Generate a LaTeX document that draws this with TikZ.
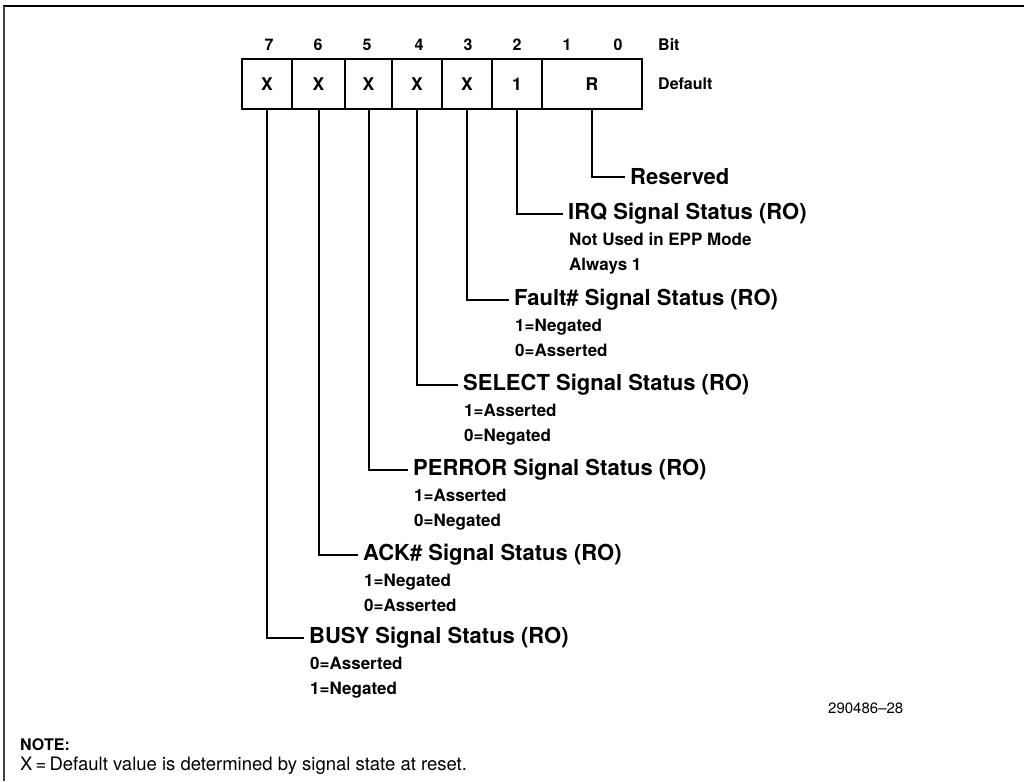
\documentclass[tikz,border=0pt]{standalone}
\usepackage{fontspec}
\setmainfont{TeX Gyre Heros}
\begin{document}
\begin{tikzpicture}[x=1pt,y=-1pt,
  cell/.style={draw,line width=2pt,minimum height=50pt,inner sep=0pt,font=\fontsize{17.5}{18}\selectfont\bfseries},
  bitnum/.style={inner sep=0pt,font=\fontsize{16}{18}\selectfont\bfseries},
  hdr/.style={anchor=west,inner sep=0pt,font=\fontsize{16}{18}\selectfont\bfseries},
  title/.style={anchor=west,inner xsep=5pt,inner ysep=0pt,font=\fontsize{22}{24}\selectfont\bfseries},
  sub/.style={anchor=base west,inner sep=0pt,align=left,font=\fontsize{17}{24.5}\selectfont\bfseries},
  leader/.style={line width=2pt}]
\useasboundingbox (0,0) rectangle (1024,781);
% frame
\draw[line width=2.2pt] (3,6) -- (1024,6);
\draw[line width=2pt, black!75] (4,6) -- (4,781);
% register cells
\node[cell,minimum width=50pt] (c7) at (267,84) {X};
\node[cell,minimum width=53pt] (c6) at (318.5,84) {X};
\node[cell,minimum width=47pt] (c5) at (368.5,84) {X};
\node[cell,minimum width=50pt] (c4) at (417,84) {X};
\node[cell,minimum width=50pt] (c3) at (467,84) {X};
\node[cell,minimum width=50pt] (c2) at (517,84) {1};
\node[cell,minimum width=100pt] (c10) at (592,84) {R};
% bit numbers
\node[bitnum] (b7) at (269,45) {7};
\node[bitnum] (b6) at (318,45) {6};
\node[bitnum] (b5) at (367,45) {5};
\node[bitnum] (b4) at (419,45) {4};
\node[bitnum] (b3) at (468,45) {3};
\node[bitnum] (b2) at (517,45) {2};
\node[bitnum] (b1) at (567,45) {1};
\node[bitnum] (b0) at (618,45) {0};
\node[hdr] (bit) at (658,45) {Bit};
\node[hdr] (def) at (658,84) {Default};
% field descriptions
\node[title] (t10) at (625,177) {Reserved};
\node[title] (t2) at (563,214) {IRQ Signal Status (RO)};
\node[sub] (s2) at ([xshift=6pt,yshift=-56pt]t2.west) {Not Used in EPP Mode\\Always 1};
\node[title] (t3) at (509,300) {Fault\# Signal Status (RO)};
\node[sub] (s3) at ([xshift=6pt,yshift=-56pt]t3.west) {1=Negated\\0=Asserted};
\node[title] (t4) at (458,385) {SELECT Signal Status (RO)};
\node[sub] (s4) at ([xshift=6pt,yshift=-56pt]t4.west) {1=Asserted\\0=Negated};
\node[title] (t5) at (408,470) {PERROR Signal Status (RO)};
\node[sub] (s5) at ([xshift=6pt,yshift=-56pt]t5.west) {1=Asserted\\0=Negated};
\node[title] (t6) at (358,555) {ACK\# Signal Status (RO)};
\node[sub] (s6) at ([xshift=6pt,yshift=-56pt]t6.west) {1=Negated\\0=Asserted};
\node[title] (t7) at (304,638) {BUSY Signal Status (RO)};
\node[sub] (s7) at ([xshift=6pt,yshift=-56pt]t7.west) {0=Asserted\\1=Negated};
% leaders
\draw[leader] (c10.south) |- (t10.west);
\draw[leader] (c2.south) |- (t2.west);
\draw[leader] (c3.south) |- (t3.west);
\draw[leader] (c4.south) |- (t4.west);
\draw[leader] (c5.south) |- (t5.west);
\draw[leader] (c6.south) |- (t6.west);
\draw[leader] (c7.south) |- (t7.west);
% figure number and note
\node[anchor=west,inner sep=0pt,font=\fontsize{15}{18}\selectfont] (fig) at (828,708) {290486–28};
\node[anchor=west,inner sep=0pt,font=\fontsize{16}{18}\selectfont\bfseries] (note) at (20,745) {NOTE:};
\node[anchor=west,inner sep=0pt,font=\fontsize{18.5}{20}\selectfont] (notex) at (20,766) {X\,=\,Default value is determined by signal state at reset.};
\end{tikzpicture}
\end{document}
